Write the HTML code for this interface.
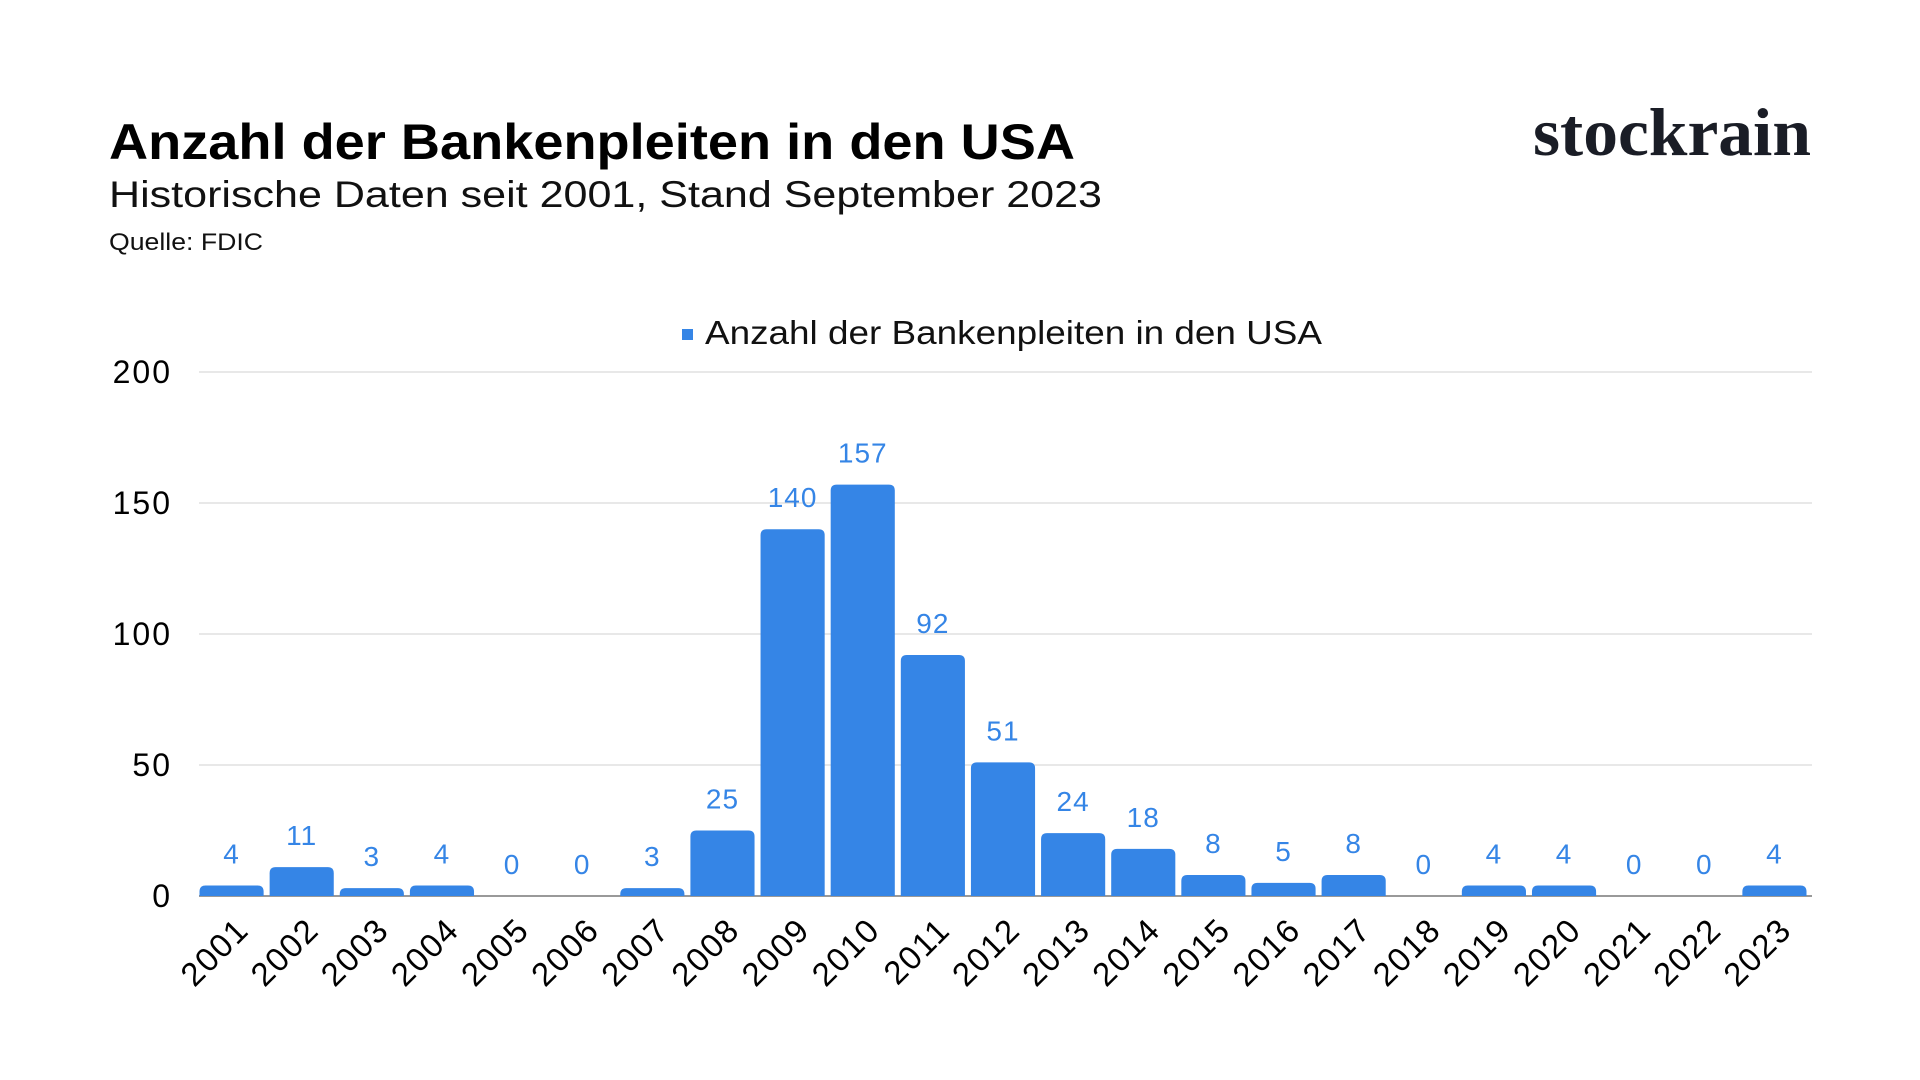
<!DOCTYPE html>
<html><head><meta charset="utf-8"><style>
body{margin:0;background:#fff;}
svg{display:block;font-family:"Liberation Sans",sans-serif;}
</style></head><body>
<svg width="1920" height="1080" viewBox="0 0 1920 1080">
<text x="109" y="159" font-size="50" font-weight="bold" fill="#000" textLength="966" lengthAdjust="spacingAndGlyphs">Anzahl der Bankenpleiten in den USA</text>
<text x="109" y="207" font-size="37" fill="#111" textLength="993" lengthAdjust="spacingAndGlyphs">Historische Daten seit 2001, Stand September 2023</text>
<text x="109" y="250" font-size="24" fill="#111" textLength="154" lengthAdjust="spacingAndGlyphs">Quelle: FDIC</text>
<text x="1811" y="155" font-size="68" font-family="Liberation Serif, serif" font-weight="bold" text-anchor="end" fill="#1a1d26" textLength="278" lengthAdjust="spacingAndGlyphs">stockrain</text>
<rect x="682" y="329" width="11" height="11" fill="#3585e6"/>
<text x="705" y="344" font-size="33" fill="#111" textLength="617" lengthAdjust="spacingAndGlyphs">Anzahl der Bankenpleiten in den USA</text>
<g id="grid"></g><g id="bars"></g>
</svg>
<script>
const categories=["2001","2002","2003","2004","2005","2006","2007","2008","2009","2010","2011","2012","2013","2014","2015","2016","2017","2018","2019","2020","2021","2022","2023"];
const values=[4,11,3,4,0,0,3,25,140,157,92,51,24,18,8,5,8,0,4,4,0,0,4];
const yTicks=[0,50,100,150,200];
const X0=199,X1=1812,Y0=896,Y1=372,YMAX=200;
const slot=(X1-X0)/categories.length;
const y=v=>Y0-(v/YMAX)*(Y0-Y1);
const x=i=>X0+i*slot;
const NS="http://www.w3.org/2000/svg";
const grid=document.getElementById('grid'),bars=document.getElementById('bars');
function mk(tag,attrs,parent){const e=document.createElementNS(NS,tag);for(const k in attrs)e.setAttribute(k,attrs[k]);parent.appendChild(e);return e;}
yTicks.forEach(t=>{
 const l=mk('line',{x1:X0,x2:X1,y1:y(t),y2:y(t),stroke:t===0?'#999':'#d9d9d9','stroke-width':t===0?2:1.2},grid);
 
 
 const tx=mk('text',{x:172,y:y(t)+11,'font-size':32,'text-anchor':'end',fill:'#000','letter-spacing':2},grid);
 tx.textContent=t;
 
 
});
categories.forEach((c,i)=>{
 const v=values[i],bx=x(i)+0.5,bw=slot-6,cx=bx+bw/2,top=y(v),h=Y0-top;
 if(h>0){
  const r=Math.min(6,h);
  const p=mk('path',{d:`M${bx},${Y0}V${top+r}Q${bx},${top} ${bx+r},${top}H${bx+bw-r}Q${bx+bw},${top} ${bx+bw},${top+r}V${Y0}Z`,fill:'#3585e6'},bars);
  
  
 }
 const vl=mk('text',{x:cx,y:top-22,'font-size':28,'text-anchor':'middle',fill:'#3585e6','letter-spacing':1},bars);
 vl.textContent=v;
 
 
 const xl=mk('text',{x:cx+19,y:932,'font-size':33,'text-anchor':'end',fill:'#000','letter-spacing':1.5,transform:`rotate(-45 ${cx+19} 932)`},bars);
 xl.textContent=c;
 
 
});
</script>
</body></html>
